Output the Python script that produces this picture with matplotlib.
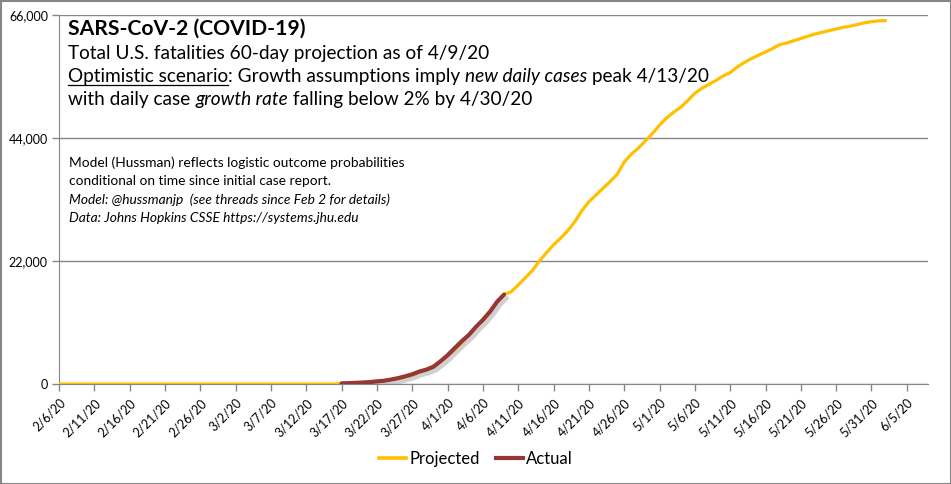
import datetime as dt
import matplotlib
matplotlib.use("Agg")
from matplotlib import pyplot as plt
from matplotlib import patheffects as pe
from matplotlib.lines import Line2D
from matplotlib.patches import Rectangle

plt.rcParams['font.family'] = ['Lato', 'DejaVu Sans']

# projected fatalities, one value per day from 2/6/20 to 6/2/20
proj_start = dt.date(2020, 2, 6)
projected = [
    0, 0, 0, 0, 0, 0, 0, 0, 0, 0,
    0, 0, 0, 0, 0, 0, 0, 0, 0, 0,
    0, 0, 0, 0, 0, 0, 0, 0, 0, 0,
    0, 0, 0, 0, 0, 0, 0, 0, 0, 0,
    # 3/17 onward
    100, 140, 190, 250, 330, 430, 560, 740, 960, 1250,
    1600, 2050, 2600, 3250, 4050, 5000, 6100, 7350, 8700, 10100,
    11600, 13100, 14600, 16000,
    # 4/10 onward
    16500, 17700, 19000, 20300, 22000, 23500, 24900, 26100, 27400, 29000,
    31000, 32600, 33800, 35000, 36200, 37500, 39700, 41100, 42200, 43500,
    44800, 46300, 47600, 48600, 49500, 50700, 52000, 52900, 53600, 54300,
    55100, 55700, 56700, 57500, 58200, 58800, 59400, 60000, 60700, 61000,
    61400, 61800, 62200, 62600, 62900, 63200, 63500, 63800, 64000, 64300,
    64600, 64800, 64950, 65000,
]

# actual fatalities, 3/17/20 to 4/9/20
act_start = dt.date(2020, 3, 17)
actual = [
    110, 150, 210, 260, 340, 470, 580, 800, 1050, 1370,
    1740, 2230, 2570, 3070, 4060, 5140, 6410, 7650, 8760, 10200,
    11450, 12900, 14700, 16000,
]

y_ticks = [0, 22000, 44000, 66000]

proj_dates = [proj_start + dt.timedelta(days=i) for i in range(len(projected))]
act_dates = [act_start + dt.timedelta(days=i) for i in range(len(actual))]

fig = plt.figure(figsize=(9.51, 4.84), dpi=100)
ax = fig.add_axes([59 / 951, 100 / 484, 869 / 951, 369 / 484])

yellow = '#FFC000'
maroon = '#953735'
grey = '#868686'

ax.plot(proj_dates, projected, color=yellow, lw=2.3, solid_capstyle='round', zorder=3)
ax.plot(act_dates, actual, color=maroon, lw=3.0, solid_capstyle='round', zorder=4,
        path_effects=[pe.SimpleLineShadow(offset=(2, -2.5), shadow_color='#aaaaaa', alpha=0.55),
                      pe.Normal()])

ax.set_xlim(dt.date(2020, 2, 6), dt.date(2020, 6, 8))
ax.set_ylim(0, 66000)

tick_dates = [dt.date(2020, 2, 6) + dt.timedelta(days=5 * i) for i in range(25)]
ax.set_xticks(tick_dates)
ax.set_xticklabels([f"{d.month}/{d.day}/{d.year % 100}" for d in tick_dates],
                   rotation=45, ha='right', rotation_mode='anchor', fontsize=9)
ax.set_yticks(y_ticks)
ax.set_yticklabels([f"{v:,}" for v in y_ticks], fontsize=9)

for s in ['top', 'right']:
    ax.spines[s].set_visible(False)
for s in ['left', 'bottom']:
    ax.spines[s].set_color(grey)
ax.tick_params(axis='both', color=grey, length=5, width=1, pad=3)
ax.tick_params(axis='x', pad=4)
ax.grid(axis='y', color=grey, lw=1)
ax.set_axisbelow(True)

# title block with mixed styles
renderer = fig.canvas.get_renderer()
W, H = fig.bbox.width, fig.bbox.height


def width_of(s, **kw):
    t1 = fig.text(0, 0, '|' + s + '|', **kw)
    t2 = fig.text(0, 0, '||', **kw)
    w = t1.get_window_extent(renderer).width - t2.get_window_extent(renderer).width
    t1.remove()
    t2.remove()
    return w


def draw_line(x, y, pieces, size):
    for txt, style, under in pieces:
        kw = dict(fontsize=size, style=style, color='black')
        fig.text(x / W, 1 - y / H, txt, va='baseline', **kw)
        w = width_of(txt, **kw)
        if under:
            fig.add_artist(Line2D([x / W, (x + w) / W], [1 - (y + 2.5) / H] * 2,
                                  color='black', lw=0.9))
        x += w


fig.text(68 / W, 1 - 35 / H, 'SARS-CoV-2 (COVID-19)', fontsize=15.2,
         fontweight='bold', va='baseline')
draw_line(68, 59, [('Total U.S. fatalities 60-day projection as of 4/9/20', 'normal', False)], 13.7)
draw_line(68, 82, [('Optimistic scenario', 'normal', True),
                   (': Growth assumptions imply ', 'normal', False),
                   ('new daily cases', 'italic', False),
                   (' peak 4/13/20', 'normal', False)], 13.7)
draw_line(68, 105, [('with daily case ', 'normal', False),
                    ('growth rate', 'italic', False),
                    (' falling below 2% by 4/30/20', 'normal', False)], 13.7)

notes = [
    ('Model (Hussman) reflects logistic outcome probabilities', 'normal'),
    ('conditional on time since initial case report.', 'normal'),
    ('Model: @hussmanjp  (see threads since Feb 2 for details)', 'italic'),
    ('Data: Johns Hopkins CSSE https://systems.jhu.edu', 'italic'),
]
for i, (txt, style) in enumerate(notes):
    fig.text(69 / W, 1 - (167 + 18.3 * i) / H, txt, fontsize=9.9, style=style,
             va='baseline')

handles = [Line2D([], [], color=yellow, lw=2.6), Line2D([], [], color=maroon, lw=3.0)]
fig.legend(handles, ['Projected', 'Actual'], loc='center',
           bbox_to_anchor=(476 / W, 1 - 459 / H), ncol=2,
           frameon=False, fontsize=12, handlelength=1.6, columnspacing=1.0,
           handletextpad=0.2)

fig.add_artist(Rectangle((0.5 / W, 0.5 / H), 1 - 1 / W, 1 - 1 / H,
                         transform=fig.transFigure, fill=False,
                         edgecolor=grey, lw=1.5))

fig.savefig('out.png', dpi=100)
